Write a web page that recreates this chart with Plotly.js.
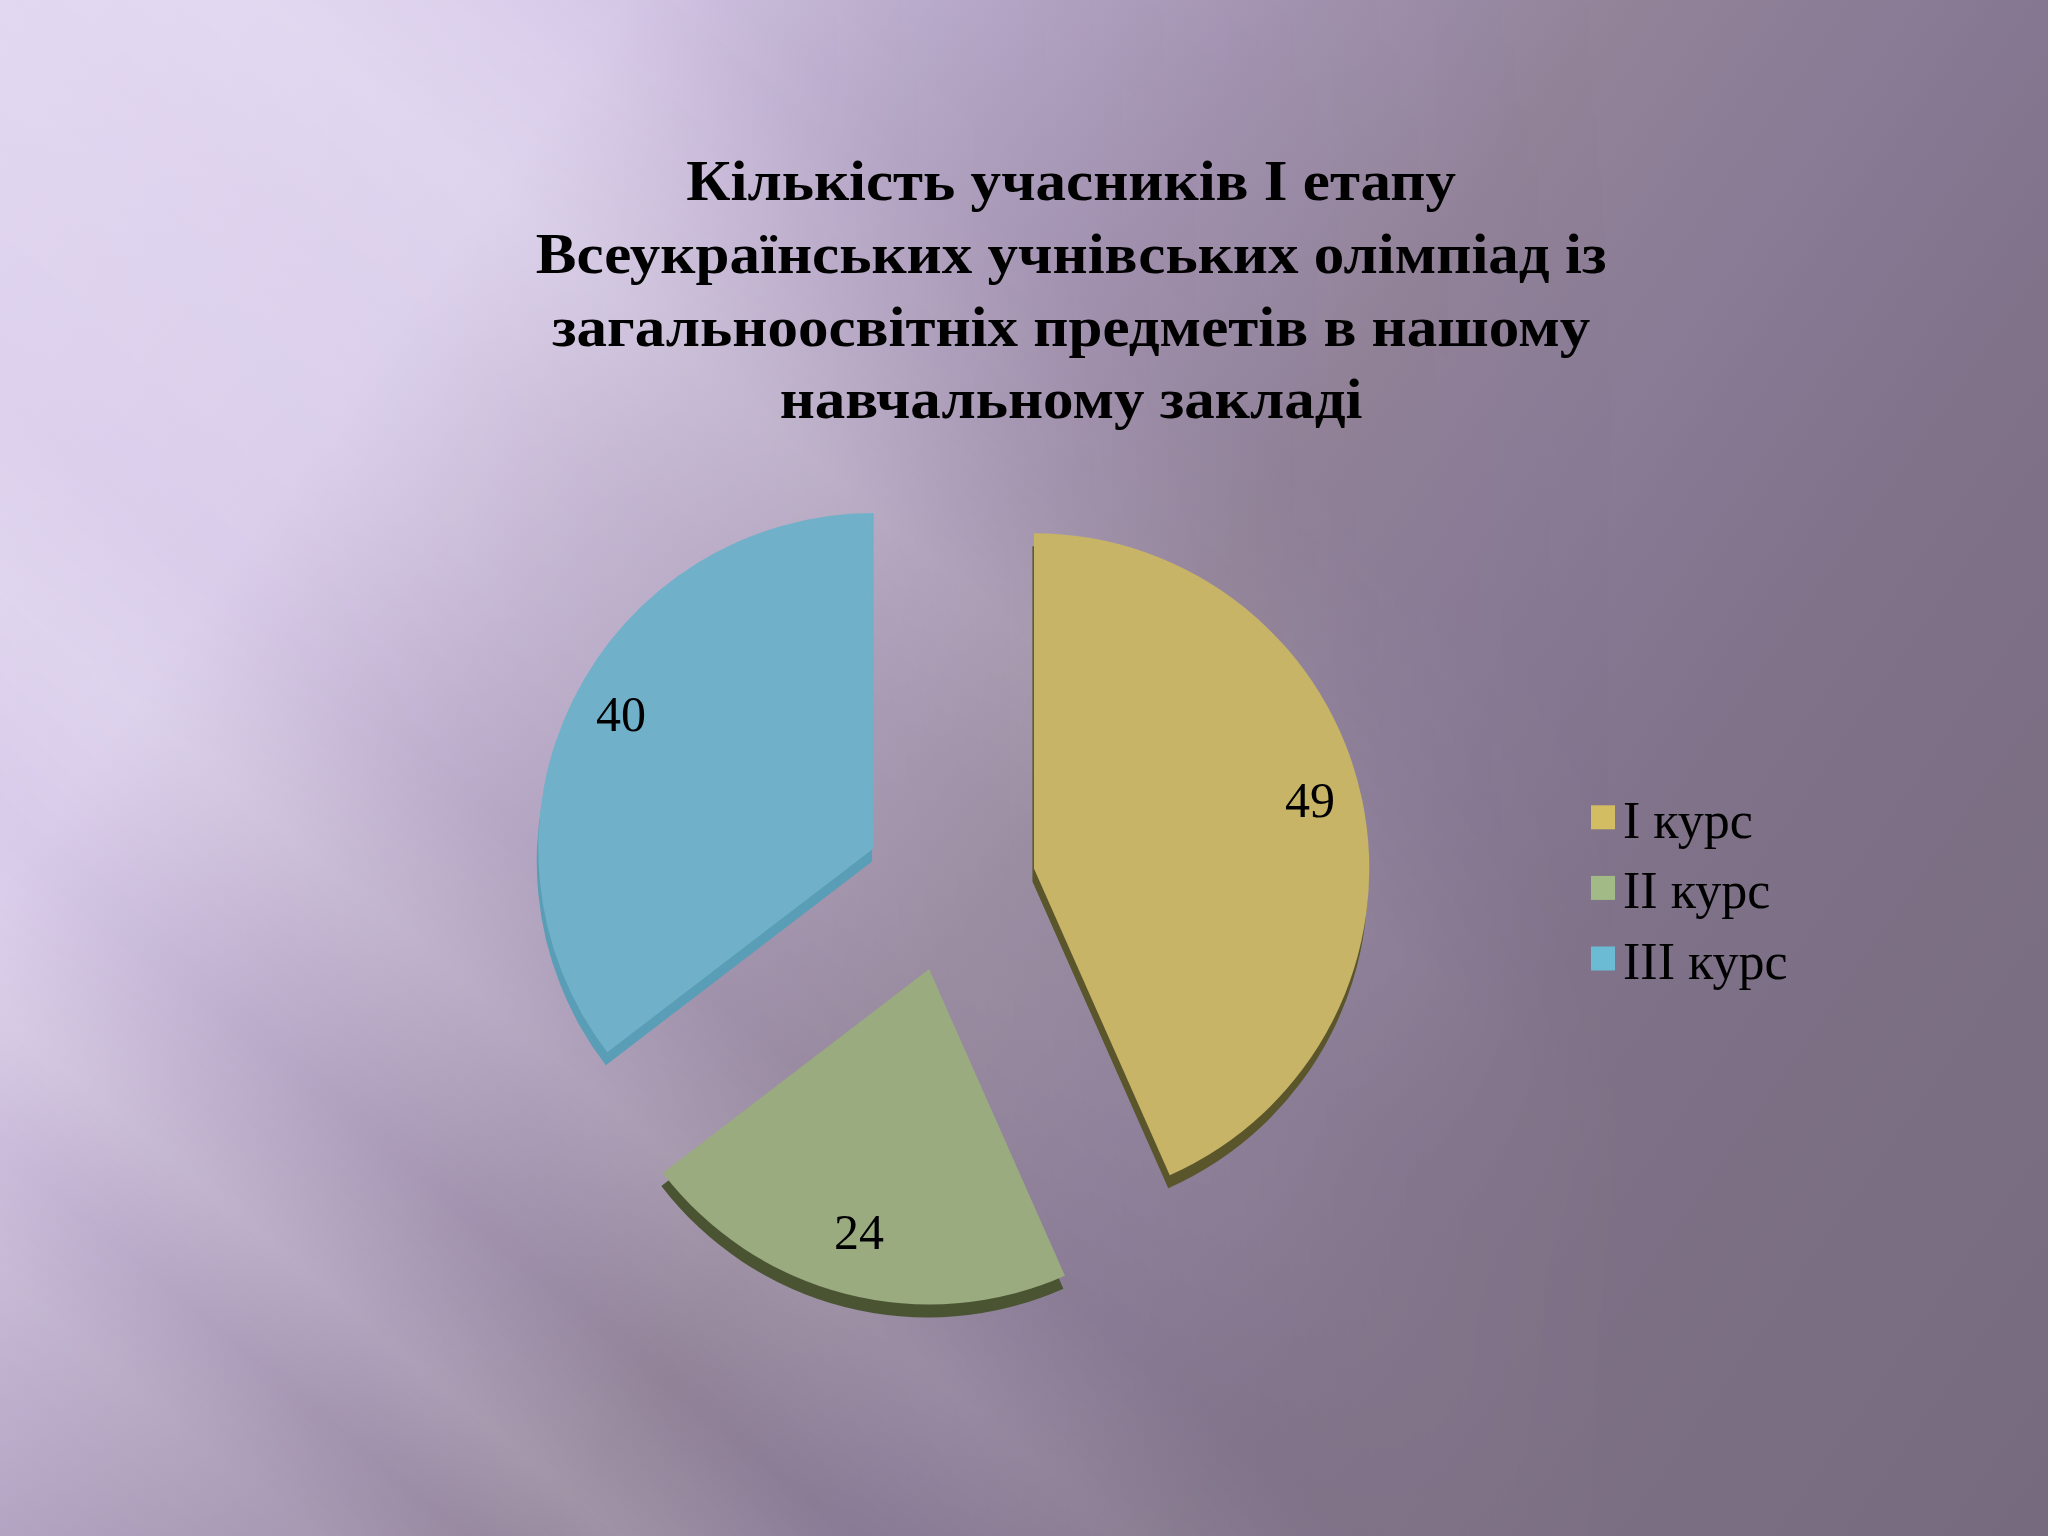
<!DOCTYPE html>
<html>
<head>
<meta charset="utf-8">
<script src="https://cdn.plot.ly/plotly-3.0.1.min.js"></script>
<style>
  html, body { margin: 0; padding: 0; }
  #wrap { position: relative; width: 2048px; height: 1536px; overflow: hidden;
    background: linear-gradient(125deg, #dfd3f0 0%, #d8cbea 20%, #bcadcc 31%, #a393b0 42%, #928399 52%, #897a95 62%, #7f7289 72%, #766b7e 100%); }
  #streaks { position: absolute; left: 0; top: 0; width: 2048px; height: 1536px;
    background: linear-gradient(40deg,
      rgba(255,255,255,0) 0%, rgba(255,255,255,0.10) 8%, rgba(255,255,255,0.02) 12%,
      rgba(255,255,255,0.15) 16%, rgba(255,255,255,0.0) 22%, rgba(255,255,255,0.16) 29%,
      rgba(255,255,255,0.04) 35%, rgba(255,255,255,0.10) 42%, rgba(255,255,255,0.12) 48%,
      rgba(255,255,255,0.2) 54%, rgba(255,255,255,0.06) 60%, rgba(60,40,80,0.05) 66%, rgba(60,40,80,0.06) 76%, rgba(255,255,255,0) 100%);
    -webkit-mask-image: linear-gradient(to right, rgba(0,0,0,1) 0%, rgba(0,0,0,0.9) 40%, rgba(0,0,0,0.5) 60%, rgba(0,0,0,0) 80%);
    mask-image: linear-gradient(to right, rgba(0,0,0,1) 0%, rgba(0,0,0,0.9) 40%, rgba(0,0,0,0.5) 60%, rgba(0,0,0,0) 80%); }
  #chart { position: absolute; left: 0; top: 0; width: 2048px; height: 1536px; }
  #chart .gtitle { transform-box: fill-box; transform-origin: center; transform: scaleX(1.09); }
</style>
</head>
<body>
<div id="wrap"><div id="streaks"></div><div id="chart"></div></div>
<script>
const labels = ['I курс', 'II курс', 'III курс'];
const values = [49, 24, 40];
const faceColors = ['#c7b467', '#9aab80', '#70b0c8'];
const sideColors = ['#5a552b', '#4a5433', '#5a9db6'];
const legendColors = ['#d3bd62', '#a2ba86', '#6cbbd4'];
const titleText = 'Кількість учасників І етапу<br>Всеукраїнських учнівських олімпіад із<br>загальноосвітніх предметів в нашому<br>навчальному закладі';

const W = 2048, H = 1536;
const pullFrac = 0.255;
const dom = { x: [0.258, 0.670], y: [0.149, 0.697] };
const depthY = 13 / H, depthX = 1.5 / W;

const shadow = {
  type: 'pie', labels: labels, values: values, sort: false, direction: 'clockwise', rotation: 0,
  pull: pullFrac, showlegend: false, textinfo: 'none', hoverinfo: 'skip',
  marker: { colors: sideColors, line: { width: 0 } },
  domain: { x: [dom.x[0] - depthX, dom.x[1] - depthX], y: [dom.y[0] - depthY, dom.y[1] - depthY] }
};
const main = {
  type: 'pie', labels: labels, values: values, sort: false, direction: 'clockwise', rotation: 0,
  pull: pullFrac, textinfo: 'none', hoverinfo: 'label+value',
  marker: { colors: faceColors, line: { width: 0 } },
  domain: dom
};

const layout = {
  width: W, height: H,
  margin: { l: 0, r: 0, t: 0, b: 0 },
  paper_bgcolor: 'rgba(0,0,0,0)', plot_bgcolor: 'rgba(0,0,0,0)',
  font: { family: 'Liberation Serif, Times New Roman, serif', color: '#000' },
  title: { text: titleText, x: 0.523, xanchor: 'center', y: 1 - 200 / H, yanchor: 'top', yref: 'container',
    font: { family: 'Liberation Serif, serif', size: 56, weight: 'bold', color: '#000' } },
  legend: { x: 1583 / W, xanchor: 'left', y: 1 - 888 / H, yanchor: 'middle',
    font: { family: 'Liberation Serif, serif', size: 52, color: '#000' }, bgcolor: 'rgba(0,0,0,0)' },
  showlegend: true
};

const gd = document.getElementById('chart');
Plotly.newPlot(gd, [shadow, main], layout, { displayModeBar: false, staticPlot: true }).then(function () {
  const cd = gd.calcdata[1];
  const cd0 = cd[0];
  const anns = cd.map(function (pt, i) {
    const f = pullFrac + 0.84;
    const px = cd0.cx + pt.pxmid[0] * f;
    const py = cd0.cy + pt.pxmid[1] * f;
    return { text: String(values[i]), x: px / W, y: 1 - py / H, xref: 'paper', yref: 'paper',
      showarrow: false, xanchor: 'center', yanchor: 'middle', yshift: 10,
      font: { family: 'Liberation Serif, serif', size: 50, color: '#000' } };
  });
  return Plotly.relayout(gd, { annotations: anns });
}).then(function () {
  document.querySelectorAll('.legend .legendpoints path').forEach(function (p, i) {
    const t = p.getAttribute('transform') || '';
    p.setAttribute('transform', t + ' scale(2)');
    p.style.fill = legendColors[i % legendColors.length];
  });
});
</script>
</body>
</html>
